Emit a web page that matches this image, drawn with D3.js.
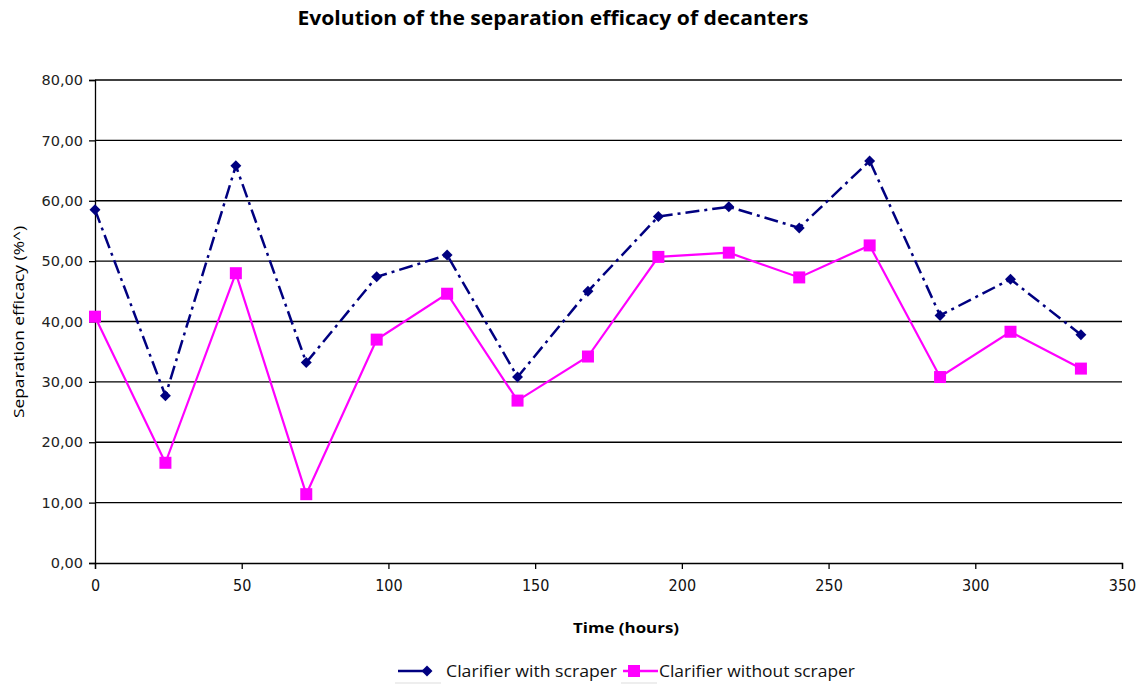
<!DOCTYPE html>
<html><head><meta charset="utf-8">
<script src="https://cdn.jsdelivr.net/npm/d3@7"></script>
<style>body{margin:0;background:#fff}svg{display:block}</style>
</head><body><svg id="c" width="1140" height="684"></svg>
<script>
const hours = [0,24,48,72,96,120,144,168,192,216,240,264,288,312,336];
const withScraper = [58.5,27.7,65.8,33.2,47.4,51.0,30.8,45.0,57.4,59.0,55.5,66.6,41.0,47.0,37.8];
const withoutScraper = [40.8,16.6,48.0,11.4,37.0,44.6,26.9,34.2,50.7,51.4,47.3,52.6,30.8,38.3,32.2];
const seriesNames = ["Clarifier with scraper","Clarifier without scraper"];
const xTicks = [0,50,100,150,200,250,300,350];
const yTicks = [0,10,20,30,40,50,60,70,80];
const title = "Evolution of the separation efficacy of decanters";
const xTitle = "Time (hours)";
const yTitle = "Separation efficacy (%^)";

const svg = d3.select("#c");
const L=95,R=1122,T=80,B=563;
const x = d3.scaleLinear().domain([0,350]).range([L,R]);
const y = d3.scaleLinear().domain([0,80]).range([B,T]);
const font = "Tahoma, 'DejaVu Sans', sans-serif";

// gridlines
svg.append("g").selectAll("line").data(yTicks.filter(d=>d>0)).join("line")
  .attr("x1",L).attr("x2",R).attr("y1",d=>y(d)).attr("y2",d=>y(d))
  .attr("stroke","#000").attr("stroke-width",1.3);

// axes
const yAxis = svg.append("g").attr("transform",`translate(${L},0)`)
  .call(d3.axisLeft(y).tickValues(yTicks).tickSize(6).tickPadding(6)
    .tickFormat(d=>d3.format(".2f")(d).replace(".",",")));
const xAxis = svg.append("g").attr("transform",`translate(0,${B})`)
  .call(d3.axisBottom(x).tickValues(xTicks).tickSize(6).tickPadding(11));
[yAxis,xAxis].forEach(g=>{
  g.select(".domain").attr("stroke","#000").attr("stroke-width",1.3);
  g.selectAll(".tick line").attr("stroke","#000").attr("stroke-width",1.3);
  g.selectAll("text").attr("font-family",font).attr("font-size",14.5).attr("fill","#222");
});
xAxis.selectAll("text").attr("font-family","'DejaVu Sans Condensed','Liberation Sans Narrow',sans-serif")
  .attr("font-size",16).attr("fill","#111");

// lines
const line = d3.line().x((d,i)=>x(hours[i])).y(d=>y(d));
svg.append("path").datum(withScraper).attr("d",line).attr("fill","none")
  .attr("stroke","#000080").attr("stroke-width",2.5).attr("stroke-dasharray","14,5,3,5");
svg.append("path").datum(withoutScraper).attr("d",line).attr("fill","none")
  .attr("stroke","#FF00FF").attr("stroke-width",2.2);

// markers
const diamond = d3.symbol().type(d3.symbolSquare).size(60);
svg.append("g").selectAll("path").data(withScraper).join("path")
  .attr("d",diamond())
  .attr("transform",(d,i)=>`translate(${x(hours[i])},${y(d)}) rotate(45)`)
  .attr("fill","#000080");
svg.append("g").selectAll("rect").data(withoutScraper).join("rect")
  .attr("x",(d,i)=>x(hours[i])-6).attr("y",d=>y(d)-6).attr("width",12).attr("height",12)
  .attr("fill","#FF00FF");

// title
svg.append("text").attr("x",553).attr("y",25).attr("text-anchor","middle")
  .attr("font-family","'Open Sans','DejaVu Sans',sans-serif").attr("font-weight","bold")
  .attr("font-size",19).attr("textLength",511).attr("lengthAdjust","spacingAndGlyphs")
  .text(title);
svg.append("text").attr("x",626).attr("y",633).attr("text-anchor","middle")
  .attr("font-family","'Open Sans','DejaVu Sans',sans-serif").attr("font-weight","bold")
  .attr("font-size",15).attr("textLength",106).attr("lengthAdjust","spacingAndGlyphs")
  .text(xTitle);
svg.append("text").attr("transform","translate(24,322) rotate(-90)").attr("text-anchor","middle")
  .attr("font-family","'Open Sans','DejaVu Sans',sans-serif")
  .attr("font-size",14).attr("textLength",192).attr("lengthAdjust","spacingAndGlyphs")
  .text(yTitle);

// legend
const lg = svg.append("g");
const ly = 671;
lg.append("line").attr("x1",398).attr("x2",440).attr("y1",ly).attr("y2",ly)
  .attr("stroke","#000080").attr("stroke-width",2.5).attr("stroke-dasharray","26,3,4,100");
lg.append("path").attr("d",diamond()).attr("transform",`translate(427,${ly}) rotate(45)`).attr("fill","#000080");
lg.append("line").attr("x1",395).attr("x2",441).attr("y1",683).attr("y2",683).attr("stroke","#ddd");
lg.append("text").attr("x",446).attr("y",ly+6).attr("font-family","'Open Sans','DejaVu Sans',sans-serif")
  .attr("font-size",15.5).attr("textLength",171).attr("lengthAdjust","spacingAndGlyphs").attr("fill","#111").text(seriesNames[0]);
lg.append("line").attr("x1",623).attr("x2",658).attr("y1",ly).attr("y2",ly)
  .attr("stroke","#FF00FF").attr("stroke-width",2.5);
lg.append("rect").attr("x",628).attr("y",ly-6).attr("width",12).attr("height",12).attr("fill","#FF00FF");
lg.append("line").attr("x1",621).attr("x2",657).attr("y1",683).attr("y2",683).attr("stroke","#ddd");
lg.append("text").attr("x",659).attr("y",ly+6).attr("font-family","'Open Sans','DejaVu Sans',sans-serif")
  .attr("font-size",15.5).attr("textLength",196).attr("lengthAdjust","spacingAndGlyphs").attr("fill","#111").text(seriesNames[1]);
</script></body></html>
